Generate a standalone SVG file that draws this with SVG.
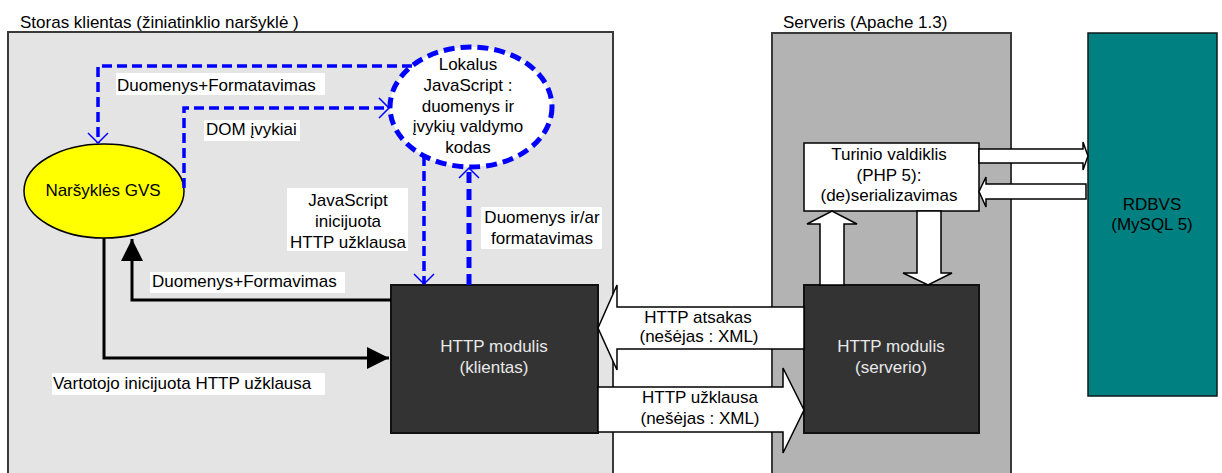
<svg xmlns="http://www.w3.org/2000/svg" width="1222" height="473" viewBox="0 0 1222 473">
  <defs>
    <style>
      text { font-family: "Liberation Sans", Arial, sans-serif; font-size: 17px; fill: #000; }
      .mid { text-anchor: middle; }
      .light { fill: #e8e8e8; }
      .zone { stroke: #3a3a3a; stroke-width: 2; }
      .module { fill: #333333; stroke: #111; stroke-width: 2; }
      .label { fill: #ffffff; }
      .blue { fill: none; stroke: #0000ff; stroke-width: 3.5; stroke-dasharray: 10 5; }
      .blue-thick { fill: none; stroke: #0000ff; stroke-width: 5; stroke-dasharray: 11 6; }
      .black { fill: none; stroke: #000; stroke-width: 3; }
      .block { fill: #ffffff; stroke: #000; stroke-width: 1.5; stroke-linejoin: miter; }
    </style>
    <marker id="open-blue" markerUnits="userSpaceOnUse" markerWidth="14" markerHeight="24" refX="11" refY="11" orient="auto">
      <path d="M1,1 L11,11 L1,21" fill="none" stroke="#0000ff" stroke-width="1.5"/>
    </marker>
    <marker id="solid-black" markerUnits="userSpaceOnUse" markerWidth="24" markerHeight="24" refX="22" refY="11" orient="auto">
      <path d="M0,0 L22,11 L0,22 z" fill="#000"/>
    </marker>
  </defs>

  <rect width="1222" height="473" fill="#ffffff"/>

  <!-- client side container -->
  <g id="client-zone">
    <rect class="zone" x="8" y="32" width="605" height="460" fill="#e4e4e4"/>
    <text x="20" y="28">Storas klientas (žiniatinklio naršyklė )</text>
  </g>

  <!-- server side container -->
  <g id="server-zone">
    <rect class="zone" x="772" y="33" width="239" height="460" fill="#b3b3b3"/>
    <text x="783" y="28">Serveris (Apache 1.3)</text>
  </g>

  <!-- database -->
  <g id="rdbvs">
    <rect x="1088" y="33" width="129" height="363" fill="#008080" stroke="#0a1a1a" stroke-width="1.5"/>
    <text class="mid" x="1152" y="210" style="fill:#000000">RDBVS</text>
    <text class="mid" x="1152" y="230" style="fill:#000000">(MySQL 5)</text>
  </g>

  <!-- browser GUI -->
  <g id="gui">
    <ellipse cx="104" cy="191" rx="80" ry="47" fill="#ffff00" stroke="#000" stroke-width="1.5"/>
    <text class="mid" x="103" y="196">Naršyklės GVS</text>
  </g>

  <!-- local JavaScript -->
  <g id="local-js">
    <ellipse cx="471" cy="107" rx="81" ry="60" class="blue-thick" style="fill:#ffffff"/>
    <text class="mid" x="468" y="70">Lokalus</text>
    <text class="mid" x="468" y="91">JavaScript :</text>
    <text class="mid" x="468" y="112">duomenys ir</text>
    <text class="mid" x="468" y="132">įvykių valdymo</text>
    <text class="mid" x="468" y="153">kodas</text>
  </g>

  <!-- client HTTP module -->
  <g id="http-client">
    <rect class="module" x="391" y="285" width="207" height="148"/>
    <text class="mid light" x="494" y="352">HTTP modulis</text>
    <text class="mid light" x="494" y="373">(klientas)</text>
  </g>

  <!-- server HTTP module -->
  <g id="http-server">
    <rect class="module" x="804" y="285" width="175" height="148"/>
    <text class="mid light" x="891" y="352">HTTP modulis</text>
    <text class="mid light" x="891" y="373">(serverio)</text>
  </g>

  <!-- content controller -->
  <g id="controller">
    <rect x="804" y="143" width="175" height="68" fill="#ffffff" stroke="#000" stroke-width="1.5"/>
    <text class="mid" x="889" y="160">Turinio valdiklis</text>
    <text class="mid" x="889" y="181">(PHP 5):</text>
    <text class="mid" x="889" y="201">(de)serializavimas</text>
  </g>

  <g id="connectors">
    <!-- dashed script flows -->
    <polyline class="blue" points="412,66 98,66 98,143" marker-end="url(#open-blue)"/>
    <polyline class="blue" points="184,188 184,108 389,108" marker-end="url(#open-blue)"/>
    <line class="blue" x1="424" y1="156" x2="424" y2="284" marker-end="url(#open-blue)"/>
    <line class="blue-thick" x1="469" y1="285" x2="469" y2="168" marker-end="url(#open-blue)"/>

    <rect class="label" x="116" y="73" width="209" height="22"/>
    <text x="117" y="91">Duomenys+Formatavimas</text>
    <rect class="label" x="204" y="120" width="96" height="21"/>
    <text x="206" y="135">DOM įvykiai</text>
    <rect class="label" x="287" y="188" width="121" height="63"/>
    <text class="mid" x="348" y="206">JavaScript</text>
    <text class="mid" x="348" y="227">inicijuota</text>
    <text class="mid" x="348" y="248">HTTP užklausa</text>
    <rect class="label" x="481" y="207" width="121" height="42"/>
    <text class="mid" x="542" y="223">Duomenys ir/ar</text>
    <text class="mid" x="542" y="244">formatavimas</text>

    <!-- solid user flows -->
    <polyline class="black" points="391,300 132,300 132,239" marker-end="url(#solid-black)"/>
    <polyline class="black" points="104,238 104,358 389,358" marker-end="url(#solid-black)"/>
    <rect class="label" x="150" y="272" width="195" height="21"/>
    <text x="152" y="287">Duomenys+Formavimas</text>
    <rect class="label" x="52" y="373" width="273" height="22"/>
    <text x="53" y="389">Vartotojo inicijuota HTTP užklausa</text>

    <!-- HTTP response / request block arrows -->
    <polygon class="block" points="598,328 617,285 617,307 804,307 804,349 617,349 617,370"/>
    <text class="mid" x="698" y="323">HTTP atsakas</text>
    <text class="mid" x="699" y="342">(nešėjas : XML)</text>
    <polygon class="block" points="598,387 783,387 783,368 804,410 783,453 783,432 598,432"/>
    <text class="mid" x="700" y="403">HTTP užklausa</text>
    <text class="mid" x="700" y="424">(nešėjas : XML)</text>

    <!-- module to controller -->
    <polygon class="block" points="820,285 820,224 807,224 832,211 857,224 844,224 844,285"/>
    <polygon class="block" points="917,211 941,211 941,273 952,273 928,285 903,273 917,273"/>

    <!-- controller to database -->
    <polygon class="block" points="979,149 1083,149 1083,142 1088,156 1083,170 1083,163 979,163"/>
    <polygon class="block" points="1086,184 986,184 986,177 979,191.5 986,207 986,199 1086,199"/>
  </g>
</svg>
